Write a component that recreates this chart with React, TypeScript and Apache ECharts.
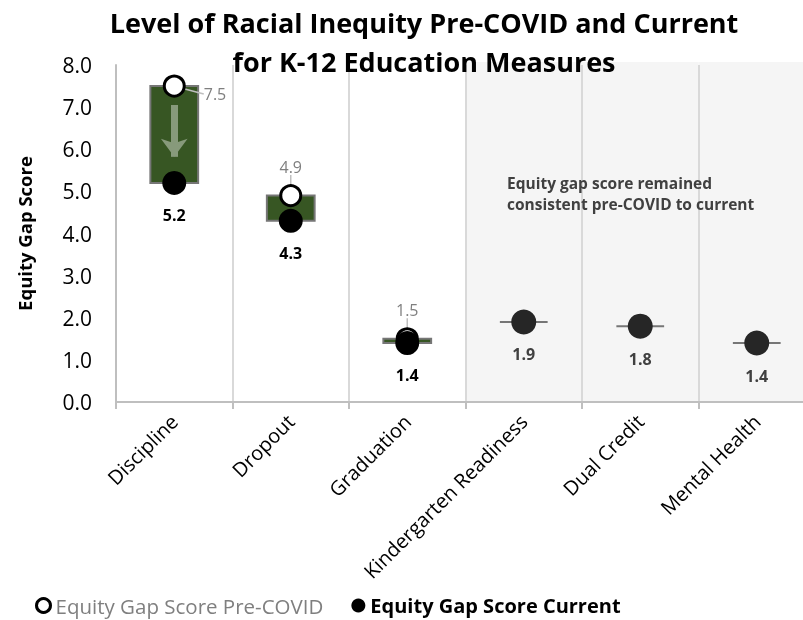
import React, { useEffect, useRef } from 'react';
import * as echarts from 'echarts';

const categories = ['Discipline', 'Dropout', 'Graduation', 'Kindergarten Readiness', 'Dual Credit', 'Mental Health'];
const preCovid = [7.5, 4.9, 1.5, 1.9, 1.8, 1.4];
const current = [5.2, 4.3, 1.4, 1.9, 1.8, 1.4];
const shadedCategories = ['Kindergarten Readiness', 'Dual Credit', 'Mental Health'];
const arrowStart = 7.05;
const arrowEnd = 5.82;
const yMin = 0;
const yMax = 8;
const yInterval = 1;

const FONT = '"Open Sans", sans-serif';

export default function App() {
  const ref = useRef<HTMLDivElement>(null);
  useEffect(() => {
    if (!ref.current) return;
    const chart = echarts.init(ref.current, undefined, { renderer: 'svg' });

    const barData = categories.map((c, i) => [i, current[i], preCovid[i]]);
    const shadeData = shadedCategories.map((c) => [categories.indexOf(c), yMin, yMax]);

    const preData = preCovid.map((v, i) => {
      if (v === current[i]) {
        return { value: v, symbolSize: 0, label: { show: false } };
      }
      return {
        value: v,
        label: {
          show: true,
          position: i === 0 ? 'right' : 'top',
          distance: i === 0 ? 12 : 9,
        },
      };
    });

    const curData = current.map((v, i) => {
      const same = v === preCovid[i];
      return {
        value: v,
        symbolSize: same ? 25 : 24,
        itemStyle: { color: same ? '#262626' : '#000000' },
        label: { color: same ? '#404040' : '#000000' },
      };
    });

    chart.setOption({
      animation: false,
      textStyle: { fontFamily: FONT },
      title: {
        text: 'Level of Racial Inequity Pre-COVID and Current\nfor K-12 Education Measures',
        left: 419,
        top: -2,
        textAlign: 'center',
        textStyle: { fontFamily: FONT, fontSize: 27, fontWeight: 'bold', color: '#000', lineHeight: 39 },
      },
      grid: { left: 116, right: 5, top: 65, bottom: 218, containLabel: false },
      legend: {
        left: 30,
        top: 590,
        itemWidth: 14,
        itemHeight: 14,
        itemGap: 28,
        textStyle: { fontFamily: FONT, fontSize: 20 },
        data: [
          {
            name: 'Equity Gap Score Pre-COVID',
            icon: 'circle',
            itemStyle: { color: '#ffffff', borderColor: '#000000', borderWidth: 3 },
            textStyle: { color: '#7f7f7f', fontSize: 20.5 },
          },
          {
            name: 'Equity Gap Score Current',
            icon: 'circle',
            itemStyle: { color: '#000000' },
            textStyle: { color: '#000000', fontWeight: 'bold', fontSize: 20 },
          },
        ],
      },
      xAxis: {
        type: 'category',
        data: categories,
        boundaryGap: true,
        axisLine: { show: true, lineStyle: { color: '#bfbfbf', width: 2 } },
        axisTick: { show: true, length: 7, lineStyle: { color: '#bfbfbf', width: 2 } },
        splitLine: { show: true, lineStyle: { color: '#d9d9d9', width: 2 } },
        axisLabel: { interval: 0, rotate: 45, fontSize: 20, color: '#000', fontFamily: FONT, margin: 16 },
      },
      yAxis: {
        type: 'value',
        min: yMin,
        max: yMax,
        interval: yInterval,
        name: 'Equity Gap Score',
        nameLocation: 'middle',
        nameGap: 82,
        nameTextStyle: { fontFamily: FONT, fontSize: 18.5, fontWeight: 'bold', color: '#000' },
        axisLine: { show: true, lineStyle: { color: '#bfbfbf', width: 2 } },
        axisTick: { show: false },
        splitLine: { show: false },
        axisLabel: { fontSize: 21, color: '#000', fontFamily: FONT, margin: 24, formatter: (v: number) => v.toFixed(1) },
      },
      series: [
        {
          type: 'custom',
          name: 'shade',
          z: -1,
          silent: true,
          data: shadeData,
          encode: { x: 0, y: [1, 2] },
          renderItem: (params: any, api: any) => {
            const i = api.value(0);
            const top = api.coord([i, api.value(2)]);
            const bot = api.coord([i, api.value(1)]);
            const w = api.size([1, 0])[0];
            return {
              type: 'rect',
              shape: { x: top[0] - w / 2, y: top[1] - 3, width: w, height: bot[1] - top[1] + 3 },
              style: { fill: '#f5f5f5' },
            };
          },
        },
        {
          type: 'custom',
          name: 'change',
          data: barData,
          encode: { x: 0, y: [1, 2] },
          renderItem: (params: any, api: any) => {
            const i = api.value(0);
            const lo = api.coord([i, api.value(1)]);
            const hi = api.coord([i, api.value(2)]);
            const bw = api.size([1, 0])[0] * 0.41;
            return {
              type: 'rect',
              shape: { x: lo[0] - bw / 2, y: hi[1], width: bw, height: lo[1] - hi[1] },
              style: { fill: '#375623', stroke: '#767676', lineWidth: 2 },
            };
          },
        },
        {
          type: 'scatter',
          name: 'Equity Gap Score Pre-COVID',
          symbol: 'circle',
          symbolSize: 20,
          itemStyle: { color: '#ffffff', borderColor: '#000000', borderWidth: 3, opacity: 1 },
          label: { show: true, color: '#7f7f7f', fontSize: 16, fontFamily: FONT, formatter: (p: any) => p.value.toFixed(1) },
          labelLine: { show: true, lineStyle: { color: '#bfbfbf', width: 1.5 } },
          labelLayout: (p: any) => (p.dataIndex === 0 ? { dx: 6, dy: 8 } : {}),
          data: preData,
          z: 3,
          markLine: {
            silent: true,
            symbol: ['none', 'arrow'],
            symbolSize: [20, 18],
            label: { show: false },
            lineStyle: { color: '#879a7b', width: 7, type: 'solid' },
            data: [[
              { coord: [categories[0], arrowStart], symbol: 'none' },
              { coord: [categories[0], arrowEnd], symbol: 'arrow' },
            ]],
          },
        },
        {
          type: 'scatter',
          name: 'Equity Gap Score Current',
          symbol: 'circle',
          symbolSize: 24,
          itemStyle: { color: '#000000', opacity: 1 },
          label: {
            show: true,
            position: 'bottom',
            distance: 12,
            fontSize: 16,
            fontWeight: 'bold',
            fontFamily: FONT,
            formatter: (p: any) => p.value.toFixed(1),
          },
          data: curData,
          z: 4,
        },
      ],
      graphic: [
        {
          type: 'text',
          left: 507,
          top: 172,
          z: 10,
          style: {
            text: 'Equity gap score remained\nconsistent pre-COVID to current',
            font: 'bold 15.5px "Open Sans", sans-serif',
            fill: '#404040',
            lineHeight: 21,
          },
        },
      ],
    });
    return () => chart.dispose();
  }, []);
  return (
    <div style={{ position: 'fixed', left: 0, top: 0, width: 803, height: 620, overflow: 'hidden' }}>
      <div ref={ref} style={{ width: 820, height: 620 }} />
    </div>
  );
}
